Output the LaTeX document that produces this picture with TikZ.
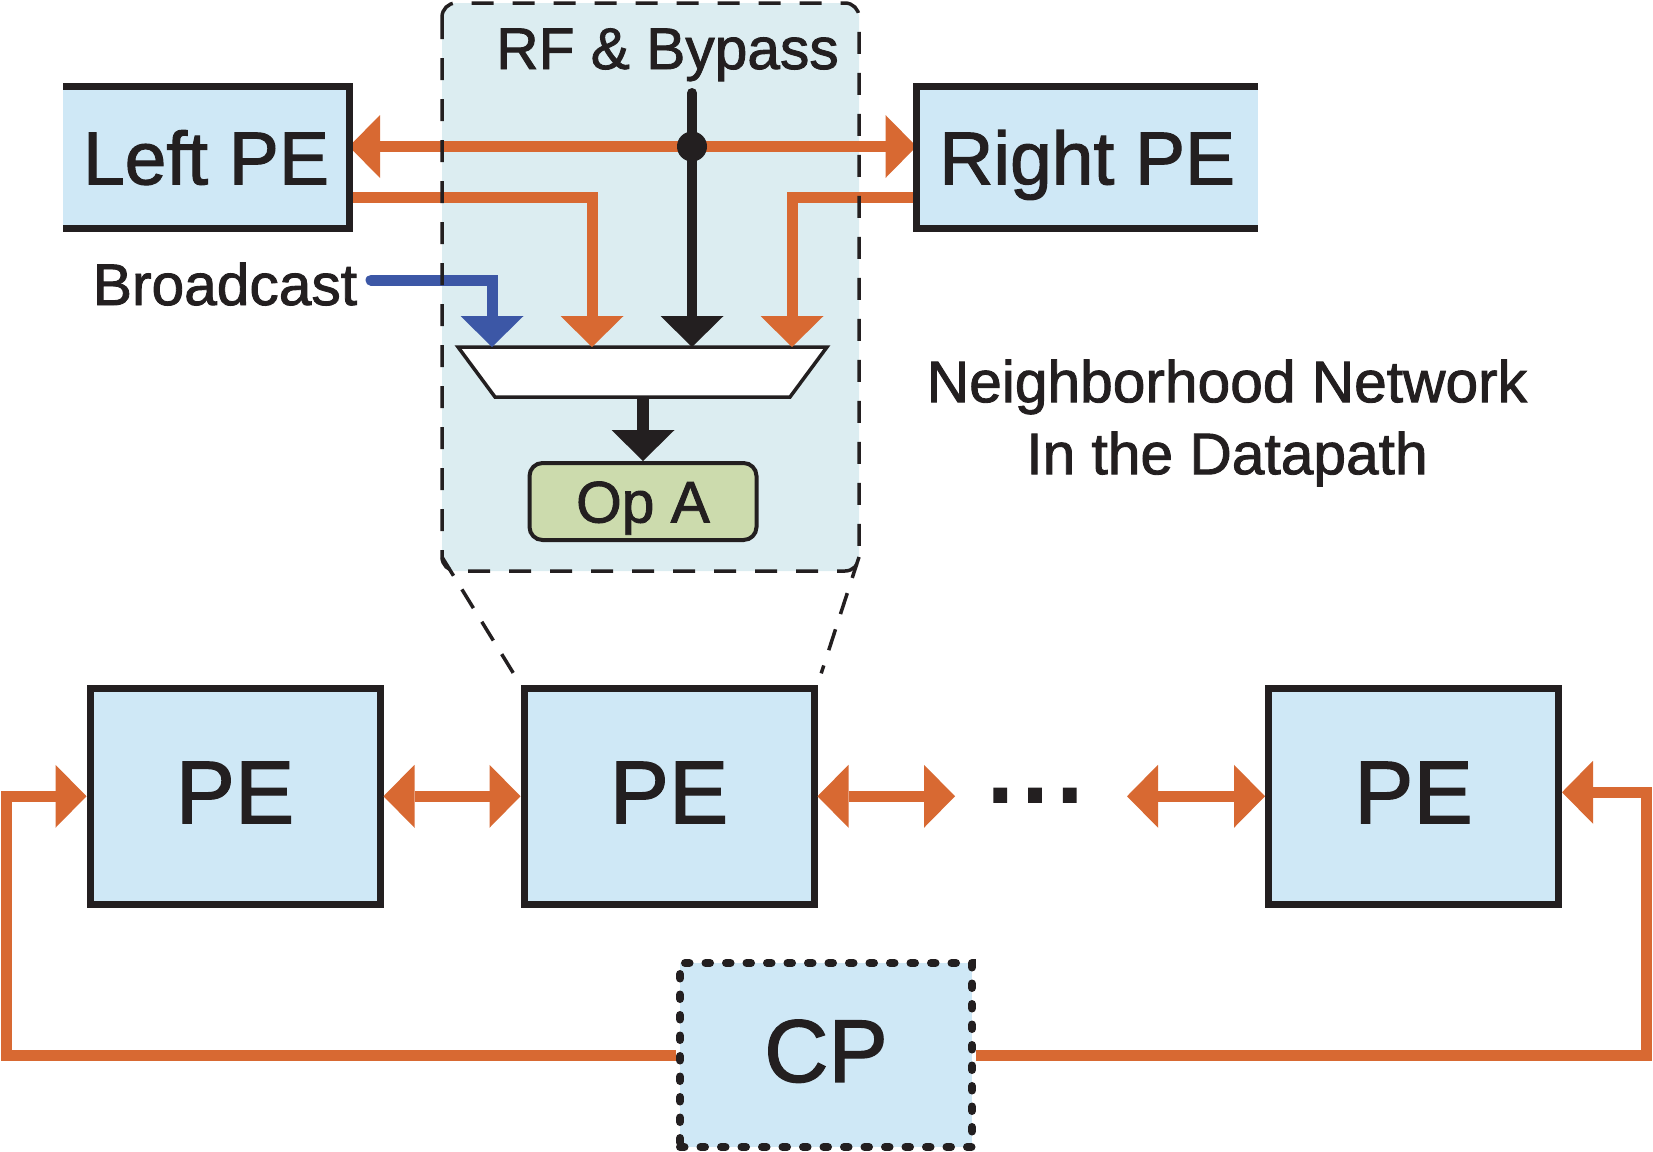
\documentclass[tikz,border=0pt]{standalone}
\usepackage{fontspec}
\setmainfont[FakeBold=1.5]{Liberation Sans}
\usetikzlibrary{arrows.meta,calc}
\definecolor{pefill}{HTML}{CFE8F6}
\definecolor{rffill}{HTML}{DCEDF1}
\definecolor{opfill}{HTML}{CCDBAD}
\definecolor{org}{HTML}{D86932}
\definecolor{blu}{HTML}{3C57A6}
\definecolor{blk}{HTML}{231F20}
\begin{document}
\begin{tikzpicture}[x=1pt,y=-1pt,
  every node/.append style={text=blk},
  tri/.tip={Triangle[length=31pt,width=63pt,line width=0pt]},
  obus/.style={draw=org,line width=11pt,line join=miter},
  kline/.style={draw=blk,line join=miter},
  frame/.style={draw=blk,line width=7pt,line join=miter},
  sidepe/.style={fill=pefill,inner sep=0pt,outer sep=0pt,minimum height=142.5pt,
    font=\fontsize{75}{90}\selectfont,text height=53.7pt,text depth=0pt},
  pebox/.style={fill=pefill,draw=blk,line width=7pt,inner sep=0pt,
    minimum width=290pt,minimum height=216pt,
    font=\fontsize{89}{100}\selectfont,text height=63.7pt,text depth=10pt},
  cpbox/.style={fill=pefill,draw=blk,line width=8pt,dash pattern=on 4.5pt off 16pt,
    line cap=round,inner sep=0pt,minimum width=292pt,minimum height=184pt,
    font=\fontsize{89}{100}\selectfont,text height=63.7pt,text depth=10pt},
  opbox/.style={fill=opfill,draw=blk,line width=4pt,rounded corners=13pt,inner sep=0pt,
    minimum width=227pt,minimum height=77pt,
    font=\fontsize{58.7}{70}\selectfont,text height=42pt,text depth=0pt},
  midtext/.style={inner sep=0pt,font=\fontsize{58.7}{70}\selectfont,text height=42pt,text depth=0pt},
  rfbg/.style={fill=rffill,rounded corners=14pt,inner sep=0pt,outer sep=0pt},
  rfborder/.style={draw=blk,line width=3.5pt,dash pattern=on 22pt off 19pt,rounded corners=14pt},
  zoomline/.style={draw=blk,line width=3.5pt,dash pattern=on 22pt off 16pt}
]
\useasboundingbox (0,0) rectangle (1653,1151);

% RF & Bypass background
\node[rfbg,minimum width=417pt,minimum height=568pt] (rf) at (650.5,287) {};
\node[midtext] (rft) at (667.5,48) {RF \& Bypass};

% side PEs
\node[sidepe,minimum width=286pt] (leftpe) at (206,157.5) {Left PE};
\node[sidepe,minimum width=341.5pt] (rightpe) at (1087.25,157.5) {Right PE};

% mux
\coordinate (m1) at (492,347);
\coordinate (m2) at (592,347);
\coordinate (m3) at (692,347);
\coordinate (m4) at (792,347);
\coordinate (mout) at (643,397);
\draw[fill=white,draw=blk,line width=3.5pt,line join=miter] (458,347) -- (827,347) -- (790,397) -- (495,397) -- cycle;

\node[opbox] (opa) at (643,501.5) {Op A};

\coordinate (rftop) at (692,93);
\coordinate (junc) at (692,146.5);

% orange top bus and inputs
\draw[obus,tri-tri] (leftpe.east |- junc) -- (rightpe.west |- junc);
\draw[obus,-tri] ([yshift=-40pt]leftpe.east) -| (m2);
\draw[obus,-tri] ([yshift=-40pt]rightpe.west) -| (m4);

% black bypass line
\draw[kline,line width=10pt,line cap=round,-tri] (rftop) -- (m3);
\node[circle,fill=blk,minimum size=30pt,inner sep=0pt] (dot) at (junc) {};

% broadcast
\node[midtext] (bc) at (225,284) {Broadcast};
\coordinate (bcs) at (371,280);
\draw[draw=blu,line width=11pt,line cap=round,line join=miter,-tri] (bcs) -| (m1);

% mux to Op A
\draw[kline,line width=11.5pt,-tri] (mout) -- (opa.north);

% side PE frames
\draw[frame] (leftpe.north west) -- (leftpe.north east) -- (leftpe.south east) -- (leftpe.south west);
\draw[frame] (rightpe.north east) -- (rightpe.north west) -- (rightpe.south west) -- (rightpe.south east);

% RF dashed border
\draw[rfborder] (rf.north west) rectangle (rf.south east);

\node[inner sep=0pt,font=\fontsize{58.7}{72}\selectfont,align=center] (nn) at (1227,423) {Neighborhood Network\\In the Datapath};

% bottom row
\node[pebox] (pe1) at (235,796.25) {PE};
\node[pebox] (pe2) at (669,796.25) {PE};
\node[pebox] (pe3) at (1413.5,796.25) {PE};
\node[cpbox] (cp) at (826,1055) {CP};

\coordinate (zl) at (442,557);
\coordinate (zr) at (859,557);
\draw[zoomline] (zl) -- (pe2.north west);
\draw[zoomline,shorten >=12pt] (zr) -- (pe2.north east);

\coordinate (a2e) at (955,796.25);
\coordinate (a3s) at (1127,796.25);
\node[inner sep=0pt,font=\fontsize{125}{125}\selectfont,anchor=base] (dots) at (1035,802) {...};
\draw[obus,tri-tri] (pe1.east) -- (pe2.west);
\draw[obus,tri-tri] (pe2.east) -- (a2e);
\draw[obus,tri-tri] (a3s) -- (pe3.west);

\coordinate (fbl) at (6.5,0);
\coordinate (fbr) at (1646,0);
\draw[obus,-tri] (cp.west) -- (cp.west -| fbl) |- (pe1.west);
\draw[obus,-tri] (cp.east) -- (cp.east -| fbr) |- ([yshift=4pt]pe3.east);
\end{tikzpicture}
\end{document}
